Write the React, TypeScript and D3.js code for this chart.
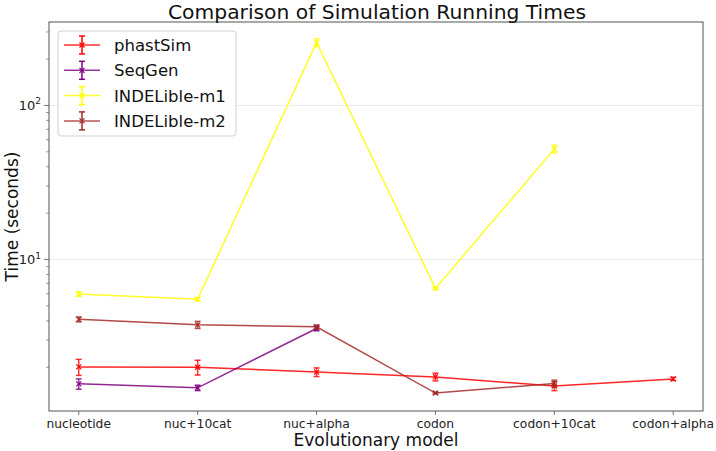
import React from "react";
import * as d3 from "d3";

const categories = ["nucleotide", "nuc+10cat", "nuc+alpha", "codon", "codon+10cat", "codon+alpha"];

const phastSimMean = [2.01, 2.0, 1.86, 1.73, 1.51, 1.68];
const phastSimErr = [0.24, 0.22, 0.12, 0.1, 0.1, 0.04];

const seqGenMean = [1.56, 1.47, 3.57];
const seqGenErr = [0.12, 0.06, 0.12];

const m1Mean = [5.97, 5.52, 256, 6.5, 52.2];
const m1Err = [0.2, 0.15, 15, 0.1, 3];

const m2Mean = [4.09, 3.77, 3.66, 1.36, 1.57];
const m2Err = [0.15, 0.2, 0.1, 0.02, 0.08];

const seriesNames = ["phastSim", "SeqGen", "INDELible-m1", "INDELible-m2"];
const seriesColors = ["#ff0000", "#800080", "#ffff00", "#a52a2a"];

const yTickValues = [10, 100];

const W = 716, H = 451;
const L = 49, R = 703, T = 22, B = 411;
const FONT = "DejaVu Sans, sans-serif";

export default function App() {
  const x = d3.scalePoint<string>().domain(categories).range([L, R]).padding(0.25);
  const y = d3.scaleLog().domain([1.04, 348]).range([B, T]);

  const series = [
    { name: seriesNames[0], color: seriesColors[0], mean: phastSimMean, err: phastSimErr },
    { name: seriesNames[1], color: seriesColors[1], mean: seqGenMean, err: seqGenErr },
    { name: seriesNames[2], color: seriesColors[2], mean: m1Mean, err: m1Err },
    { name: seriesNames[3], color: seriesColors[3], mean: m2Mean, err: m2Err },
  ];

  const line = d3
    .line<number>()
    .x((_, i) => x(categories[i]) as number)
    .y((d) => y(d));

  const minorTicks: number[] = [];
  for (let dec = 1; dec <= 100; dec *= 10) {
    for (let k = 2; k < 10; k++) {
      const v = k * dec;
      if (v >= 1.04 && v <= 348) minorTicks.push(v);
    }
  }

  const cross = (cx: number, cy: number, s: number, color: string, key: string) => (
    <g key={key} stroke={color} strokeWidth={1.2}>
      <line x1={cx - s} y1={cy - s} x2={cx + s} y2={cy + s} />
      <line x1={cx - s} y1={cy + s} x2={cx + s} y2={cy - s} />
    </g>
  );

  return (
    <div style={{ position: "absolute", left: 0, top: 0 }}>
      <svg width={W} height={H} style={{ display: "block", background: "#fff" }} fontFamily={FONT}>
        <rect x={0} y={0} width={W} height={H} fill="#fff" />
        {yTickValues.map((v) => (
          <line key={"g" + v} x1={L} x2={R} y1={y(v)} y2={y(v)} stroke="#e6e6e6" strokeWidth={0.8} />
        ))}
        {series.map((s) => (
          <g key={s.name}>
            <path d={line(s.mean) || ""} fill="none" stroke={s.color} strokeWidth={1.5} strokeOpacity={0.85} />
            {s.mean.map((m, i) => {
              const cx = x(categories[i]) as number;
              const y1 = y(m + s.err[i]);
              const y2 = y(Math.max(m - s.err[i], 0.01));
              return (
                <g key={i} stroke={s.color} strokeWidth={1.5} strokeOpacity={0.8}>
                  <line x1={cx} x2={cx} y1={y1} y2={y2} />
                  <line x1={cx - 3} x2={cx + 3} y1={y1} y2={y1} />
                  <line x1={cx - 3} x2={cx + 3} y1={y2} y2={y2} />
                </g>
              );
            })}
            {s.mean.map((m, i) => cross(x(categories[i]) as number, y(m), 2.5, s.color, "m" + i))}
          </g>
        ))}
        <rect x={L} y={T} width={R - L} height={B - T} fill="none" stroke="#555" strokeWidth={1} />
        {yTickValues.map((v) => (
          <g key={"yt" + v}>
            <line x1={L - 5} x2={L} y1={y(v)} y2={y(v)} stroke="#555" strokeWidth={0.8} />
            <text x={L - 8} y={y(v) + 4.5} textAnchor="end" fontSize={13} fill="#222">
              10
              <tspan dy={-5.5} fontSize={9}>
                {Math.round(Math.log10(v))}
              </tspan>
            </text>
          </g>
        ))}
        {minorTicks.map((v) => (
          <line key={"mt" + v} x1={L - 3} x2={L} y1={y(v)} y2={y(v)} stroke="#555" strokeWidth={0.6} />
        ))}
        {categories.map((c) => (
          <g key={c}>
            <line x1={x(c)} x2={x(c)} y1={B} y2={B + 4} stroke="#555" strokeWidth={0.8} />
            <text x={x(c)} y={B + 17} textAnchor="middle" fontSize={12.3} fill="#222">
              {c}
            </text>
          </g>
        ))}
        <text x={(L + R) / 2} y={446} textAnchor="middle" fontSize={17} fill="#111">
          Evolutionary model
        </text>
        <text transform={`translate(18, ${(T + B) / 2}) rotate(-90)`} textAnchor="middle" fontSize={17} fill="#111">
          Time (seconds)
        </text>
        <text x={(L + R) / 2 + 1} y={19} textAnchor="middle" fontSize={20.3} fill="#111">
          Comparison of Simulation Running Times
        </text>
        <rect x={58} y={31} width={178} height={105} rx={3} fill="#fff" fillOpacity={0.8} stroke="#d0d0d0" strokeWidth={1} />
        {series.map((s, i) => {
          const cy = 45 + i * 25.3;
          return (
            <g key={"lg" + s.name}>
              <line x1={64} x2={100} y1={cy} y2={cy} stroke={s.color} strokeWidth={1.5} strokeOpacity={0.8} />
              <line x1={82} x2={82} y1={cy - 9} y2={cy + 9} stroke={s.color} strokeWidth={1.5} />
              <line x1={79} x2={85} y1={cy - 9} y2={cy - 9} stroke={s.color} strokeWidth={1.5} />
              <line x1={79} x2={85} y1={cy + 9} y2={cy + 9} stroke={s.color} strokeWidth={1.5} />
              {cross(82, cy, 2.5, s.color, "lc" + i)}
              <text x={114} y={cy + 6} fontSize={16.5} fill="#111">
                {s.name}
              </text>
            </g>
          );
        })}
      </svg>
    </div>
  );
}
